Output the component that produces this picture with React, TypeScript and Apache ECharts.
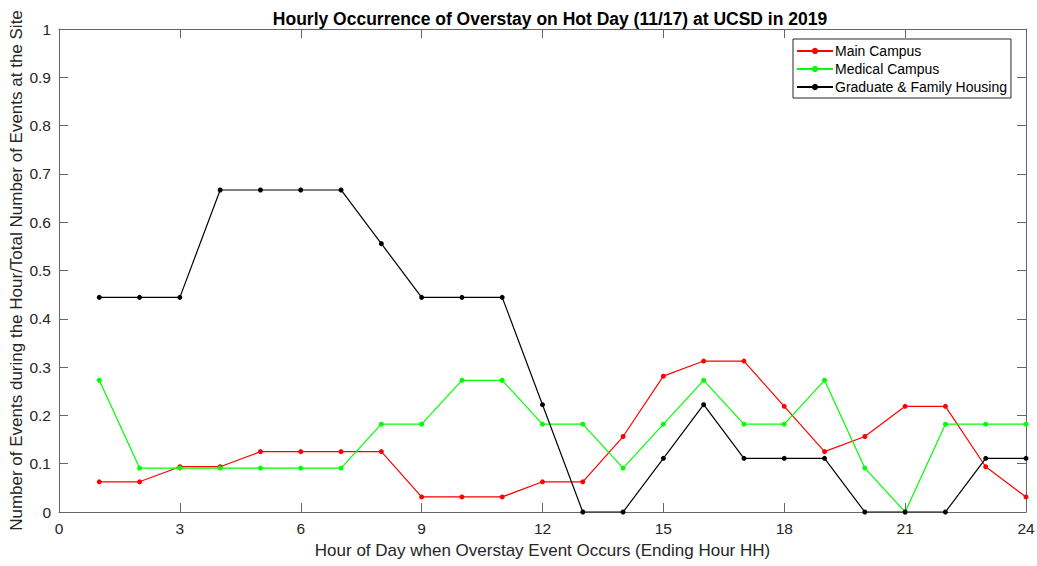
import React, { useEffect, useRef } from "react";
import * as echarts from "echarts";

const hours = [1, 2, 3, 4, 5, 6, 7, 8, 9, 10, 11, 12, 13, 14, 15, 16, 17, 18, 19, 20, 21, 22, 23, 24];

const mainCampus = [
  0.0625, 0.0625, 0.09375, 0.09375, 0.125, 0.125, 0.125, 0.125, 0.03125, 0.03125, 0.03125, 0.0625,
  0.0625, 0.15625, 0.28125, 0.3125, 0.3125, 0.21875, 0.125, 0.15625, 0.21875, 0.21875, 0.09375, 0.03125,
];

const medicalCampus = [
  0.2727, 0.0909, 0.0909, 0.0909, 0.0909, 0.0909, 0.0909, 0.1818, 0.1818, 0.2727, 0.2727, 0.1818,
  0.1818, 0.0909, 0.1818, 0.2727, 0.1818, 0.1818, 0.2727, 0.0909, 0, 0.1818, 0.1818, 0.1818,
];

const gradHousing = [
  0.4444, 0.4444, 0.4444, 0.6667, 0.6667, 0.6667, 0.6667, 0.5556, 0.4444, 0.4444, 0.4444, 0.2222,
  0, 0, 0.1111, 0.2222, 0.1111, 0.1111, 0.1111, 0, 0, 0, 0.1111, 0.1111,
];

const seriesNames = ["Main Campus", "Medical Campus", "Graduate & Family Housing"];
const seriesColors = ["#ff0000", "#00ff00", "#000000"];

const FONT = "'Liberation Sans', Arial, Helvetica, sans-serif";
const AXIS_COLOR = "#666666";
const TEXT_COLOR = "#262626";

const axisLine = () => ({ show: true, onZero: false, lineStyle: { color: AXIS_COLOR, width: 1 } });
const axisTick = () => ({ show: true, inside: true, length: 9, lineStyle: { color: AXIS_COLOR, width: 1 } });

export default function App() {
  const ref = useRef<HTMLDivElement>(null);

  useEffect(() => {
    if (!ref.current) return;
    const chart = echarts.init(ref.current, undefined, { renderer: "svg" });

    const makeSeries = (name: string, values: number[], color: string) => ({
      name,
      type: "line",
      data: hours.map((h, i) => [h, values[i]]),
      symbol: "circle",
      symbolSize: 5,
      lineStyle: { color, width: 1.2 },
      itemStyle: { color },
      xAxisIndex: 0,
      yAxisIndex: 0,
    });

    chart.setOption({
      animation: false,
      backgroundColor: "#ffffff",
      title: {
        text: "Hourly Occurrence of Overstay on Hot Day (11/17) at UCSD in 2019",
        left: 545,
        textAlign: "center",
        top: 5,
        textStyle: { fontFamily: FONT, fontSize: 17.5, fontWeight: "bold", color: "#000000" },
      },
      legend: {
        data: seriesNames,
        orient: "vertical",
        left: 793,
        top: 39,
        itemWidth: 36,
        itemHeight: 8,
        itemGap: 4,
        padding: [5, 4, 4, 3],
        borderColor: "#262626",
        borderWidth: 1,
        backgroundColor: "#ffffff",
        textStyle: { fontFamily: FONT, fontSize: 14, color: "#000000", padding: [0, 0, 0, -3] },
      },
      grid: { left: 59, right: 11, top: 29, bottom: 54, containLabel: false, outerBoundsMode: "none" },
      xAxis: [
        {
          type: "value",
          min: 0,
          max: 24,
          interval: 3,
          position: "bottom",
          name: "Hour of Day when Overstay Event Occurs (Ending Hour HH)",
          nameLocation: "middle",
          nameGap: 30,
          nameMoveOverlap: false,
          nameTextStyle: { fontFamily: FONT, fontSize: 17, color: TEXT_COLOR },
          axisLine: axisLine(),
          axisTick: axisTick(),
          splitLine: { show: false },
          axisLabel: { fontFamily: FONT, fontSize: 15.5, color: TEXT_COLOR, margin: 8 },
        },
        {
          type: "value",
          min: 0,
          max: 24,
          interval: 3,
          position: "top",
          axisLine: axisLine(),
          axisTick: axisTick(),
          splitLine: { show: false },
          axisLabel: { show: false },
        },
      ],
      yAxis: [
        {
          type: "value",
          min: 0,
          max: 1,
          interval: 0.1,
          position: "left",
          name: "Number of Events during the Hour/Total Number of Events at the Site",
          nameLocation: "middle",
          nameGap: 34,
          nameMoveOverlap: false,
          nameTextStyle: { fontFamily: FONT, fontSize: 17, color: TEXT_COLOR },
          axisLine: axisLine(),
          axisTick: axisTick(),
          splitLine: { show: false },
          axisLabel: {
            fontFamily: FONT,
            fontSize: 15.5,
            color: TEXT_COLOR,
            margin: 8,
            formatter: (v: number) => String(Math.round(v * 10) / 10),
          },
        },
        {
          type: "value",
          min: 0,
          max: 1,
          interval: 0.1,
          position: "right",
          axisLine: axisLine(),
          axisTick: axisTick(),
          splitLine: { show: false },
          axisLabel: { show: false },
        },
      ],
      series: [
        makeSeries(seriesNames[0], mainCampus, seriesColors[0]),
        makeSeries(seriesNames[1], medicalCampus, seriesColors[1]),
        makeSeries(seriesNames[2], gradHousing, seriesColors[2]),
      ],
    });

    return () => chart.dispose();
  }, []);

  return <div ref={ref} style={{ width: 1037, height: 566, position: "absolute", left: 0, top: 0 }} />;
}
